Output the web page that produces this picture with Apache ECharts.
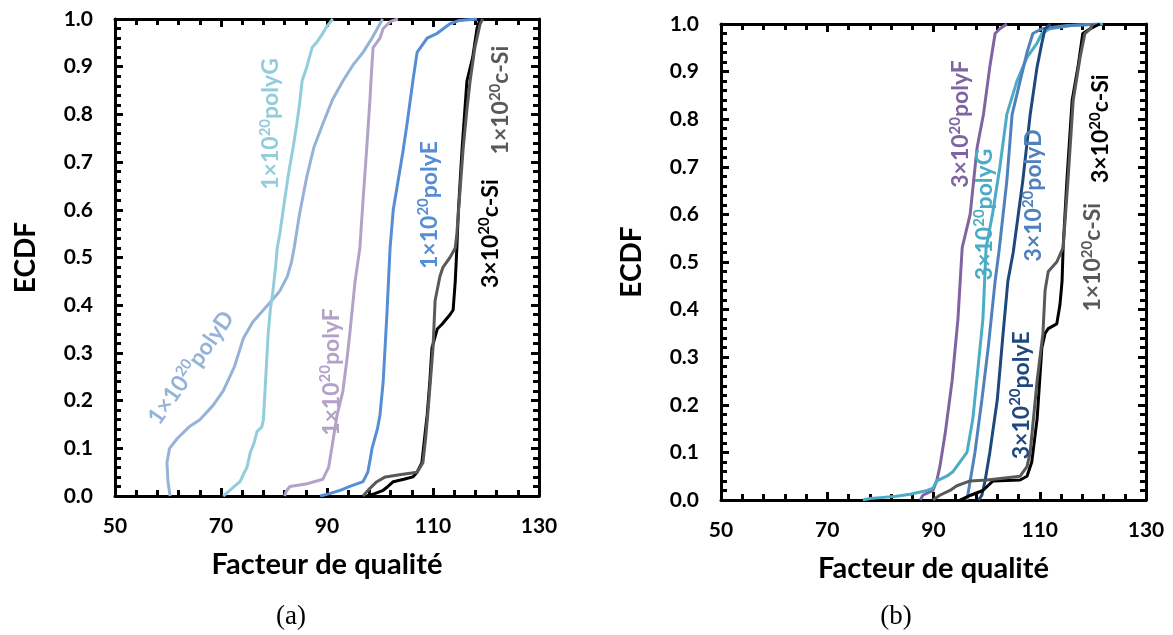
<!DOCTYPE html>
<html><head><meta charset="utf-8">
<script src="https://cdn.jsdelivr.net/npm/echarts@6/dist/echarts.min.js"></script>
<style>html,body{margin:0;padding:0;background:#fff}#c{width:1173px;height:635px}</style>
</head><body><div id="c"></div>
<script>
// ---------- data (x = Facteur de qualité, y = ECDF) ----------
const xMin = 50, xMax = 130, xStep = 20;
const yMin = 0, yMax = 1, yStep = 0.1;

// panel (a)
const a_polyD = [[60.4,0],[60.0,0.03],[59.8,0.07],[60.3,0.10],[61.7,0.12],[64,0.145],[66,0.16],[68.5,0.19],[70.4,0.22],[72.5,0.27],[74.2,0.33],[76,0.365],[78,0.39],[80,0.415],[81.1,0.43],[82.5,0.46],[83.3,0.49],[83.8,0.52],[84.8,0.59],[86.2,0.67],[87.5,0.73],[89.2,0.78],[91,0.83],[93,0.87],[95,0.905],[96.8,0.93],[98.5,0.96],[100,0.99],[100.5,1.0]];
const a_polyG = [[70.4,0],[71.5,0.01],[72.5,0.02],[73.6,0.03],[74.2,0.045],[74.9,0.06],[75.2,0.075],[75.5,0.09],[76.2,0.11],[76.8,0.135],[77.7,0.145],[78,0.16],[78.3,0.22],[78.6,0.28],[78.9,0.34],[79.3,0.39],[79.8,0.43],[80.3,0.48],[80.6,0.52],[81.1,0.55],[82,0.62],[82.8,0.68],[83.6,0.73],[84.3,0.78],[84.8,0.82],[85.3,0.87],[86.2,0.90],[87.2,0.94],[88,0.95],[89.2,0.97],[90,0.985],[91.1,1.0]];
const a_polyF = [[82,0],[82.3,0.01],[83,0.02],[86,0.025],[89.2,0.035],[90.3,0.06],[90.9,0.10],[91.9,0.17],[93,0.22],[93.8,0.29],[94.3,0.34],[95.3,0.45],[96.2,0.52],[96.8,0.62],[97.5,0.73],[98.1,0.83],[98.4,0.89],[98.7,0.94],[100,0.96],[100.6,0.98],[102,0.995],[103.4,1.0]];
const a_polyE = [[88.7,0],[90.5,0.005],[92.5,0.012],[94.3,0.02],[96.8,0.03],[97.7,0.05],[98.2,0.08],[98.5,0.10],[99.5,0.14],[100,0.17],[100.6,0.24],[101,0.32],[101.3,0.38],[101.9,0.52],[102.5,0.6],[103.4,0.66],[104.3,0.72],[105.1,0.78],[106.2,0.87],[107,0.93],[108.9,0.96],[110.8,0.97],[113.2,0.99],[115,0.997],[118.3,1.0]];
const a_cSi1 = [[96.8,0],[98,0.015],[99.4,0.03],[101,0.04],[104,0.045],[107,0.05],[108.1,0.07],[108.6,0.12],[109,0.17],[109.5,0.24],[110,0.31],[110.4,0.41],[111.3,0.46],[111.9,0.48],[113.2,0.50],[114.2,0.52],[114.5,0.55],[115.1,0.64],[115.7,0.73],[116.4,0.81],[117,0.87],[117.9,0.94],[118.9,0.99],[119.4,1.0]];
const a_cSi3 = [[97.5,0],[99,0.005],[100.6,0.012],[101.5,0.02],[102.5,0.03],[104.5,0.035],[106.2,0.04],[107,0.05],[107.9,0.07],[108.4,0.12],[108.9,0.17],[109.4,0.24],[109.8,0.31],[110.8,0.35],[111.7,0.36],[113.2,0.38],[113.8,0.39],[114.2,0.45],[114.5,0.52],[114.8,0.6],[115.5,0.73],[116.4,0.87],[117.5,0.92],[118.3,0.98],[118.9,1.0]];

// panel (b)
const b_polyF = [[87.5,0],[88,0.01],[89.9,0.02],[90.6,0.04],[91.2,0.07],[92.2,0.14],[93.5,0.25],[94.6,0.38],[95.4,0.53],[96.9,0.60],[98.2,0.74],[99.4,0.81],[100,0.86],[100.6,0.91],[101.6,0.98],[102.5,0.99],[103.8,1.0]];
const b_polyG = [[76.7,0],[78,0.003],[80,0.005],[83,0.008],[85.6,0.012],[88.8,0.02],[89.9,0.025],[90.6,0.04],[92.5,0.05],[93.7,0.06],[95,0.08],[96.3,0.10],[97.4,0.17],[98.4,0.28],[99.3,0.38],[99.9,0.53],[101.1,0.60],[102.5,0.70],[103.8,0.81],[105.7,0.88],[107.6,0.93],[109.5,0.96],[110.4,0.98],[111.9,0.99],[116,0.997],[121.9,1.0]];
const b_polyD = [[96.3,0],[96.9,0.04],[97.8,0.10],[99.1,0.21],[100.3,0.32],[101.6,0.46],[102.3,0.52],[103.8,0.67],[104.8,0.81],[106.3,0.88],[107.6,0.94],[108.7,0.98],[110.4,0.99],[115.1,0.997],[121.3,1.0]];
const b_polyE = [[98.5,0],[99.1,0.01],[99.7,0.04],[100.6,0.10],[102,0.21],[103.1,0.35],[104,0.46],[105,0.52],[106.8,0.67],[108.2,0.81],[109.5,0.91],[110.4,0.96],[111,0.99],[112,1.0]];
const b_cSi1 = [[89.9,0],[91.2,0.01],[93.1,0.02],[94.4,0.03],[96.9,0.04],[100.1,0.042],[106.3,0.05],[107.6,0.07],[108.2,0.10],[109.5,0.25],[110.6,0.35],[111,0.44],[111.6,0.48],[113.2,0.50],[114.4,0.53],[115.3,0.67],[116.3,0.84],[117.6,0.93],[118.5,0.98],[119.5,0.99],[120,1.0]];
const b_cSi3 = [[95,0],[97,0.01],[99.3,0.02],[101.2,0.04],[106.3,0.042],[107.6,0.05],[108.5,0.08],[109.5,0.17],[110.4,0.32],[111,0.35],[111.6,0.36],[113.2,0.37],[113.8,0.41],[114.2,0.46],[114.4,0.53],[115.1,0.67],[116.1,0.84],[117.2,0.91],[118.1,0.98],[119.5,0.99],[121.3,1.0]];

const xTitle = 'Facteur de qualité';
const yTitle = 'ECDF';
const captions = ['(a)', '(b)'];

// series: name prefix, superscript, suffix, data, color, panel
const seriesDefs = [
  {pre:'1×10', sup:'20', suf:'polyD', data:a_polyD, color:'#95B3D7', p:0},
  {pre:'1×10', sup:'20', suf:'polyG', data:a_polyG, color:'#92CDDC', p:0},
  {pre:'1×10', sup:'20', suf:'polyF', data:a_polyF, color:'#B3A2C7', p:0},
  {pre:'1×10', sup:'20', suf:'polyE', data:a_polyE, color:'#558ED5', p:0},
  {pre:'3×10', sup:'20', suf:'c-Si', data:a_cSi3, color:'#000000', p:0},
  {pre:'1×10', sup:'20', suf:'c-Si', data:a_cSi1, color:'#595959', p:0},
  {pre:'3×10', sup:'20', suf:'polyF', data:b_polyF, color:'#8064A2', p:1},
  {pre:'3×10', sup:'20', suf:'polyG', data:b_polyG, color:'#4BACC6', p:1},
  {pre:'3×10', sup:'20', suf:'polyD', data:b_polyD, color:'#4F81BD', p:1},
  {pre:'3×10', sup:'20', suf:'polyE', data:b_polyE, color:'#1F497D', p:1},
  {pre:'3×10', sup:'20', suf:'c-Si', data:b_cSi3, color:'#000000', p:1},
  {pre:'1×10', sup:'20', suf:'c-Si', data:b_cSi1, color:'#595959', p:1}
];
// label anchor (data coords) and rotation (deg) for each series, same order
const labelPos = [
  [64.2,0.27,55],[79.2,0.78,90],[90.6,0.26,90],[109.1,0.61,90],[120.6,0.55,90],[122.6,0.83,90],
  [95.0,0.79,90],[99.5,0.60,90],[108.7,0.64,90],[106.3,0.22,90],[121.3,0.78,90],[119.8,0.51,90]
];

// ---------- chart ----------
const FONT = 'Lato';
const grids = [
  {left:115, top:19, width:424, height:477},
  {left:721, top:24, width:425, height:476}
];
function xAx(gi, pos, showLabel){
  return {type:'value', gridIndex:gi, position:pos, min:xMin, max:xMax, interval:xStep,
    name: showLabel ? xTitle : '', nameLocation:'middle', nameGap:54,
    nameTextStyle:{fontFamily:FONT, fontWeight:'bold', fontSize:29, color:'#000'},
    axisLine:{show:true, onZero:false, lineStyle:{color:'#000', width:3}},
    axisTick:{show:true, inside:true, length:8, lineStyle:{color:'#000', width:3}},
    minorTick:{show:true, splitNumber:5, length:6, lineStyle:{color:'#000', width:3}},
    splitLine:{show:false}, minorSplitLine:{show:false},
    axisLabel:{show:showLabel, margin:20, fontFamily:FONT, fontWeight:'bold', fontSize:21, color:'#000'}};
}
function yAx(gi, pos, showLabel){
  return {type:'value', gridIndex:gi, position:pos, min:yMin, max:yMax, interval:yStep,
    name: showLabel ? yTitle : '', nameLocation:'middle', nameGap:75, nameRotate:90,
    nameTextStyle:{fontFamily:FONT, fontWeight:'bold', fontSize:28, color:'#000'},
    axisLine:{show:true, onZero:false, lineStyle:{color:'#000', width:3}},
    axisTick:{show:true, inside:true, length:8, lineStyle:{color:'#000', width:3}},
    minorTick:{show:true, splitNumber:5, length:6, lineStyle:{color:'#000', width:3}},
    splitLine:{show:false}, minorSplitLine:{show:false},
    axisLabel:{show:showLabel, margin:22, fontFamily:FONT, fontWeight:'bold', fontSize:21, color:'#000',
      formatter: v => v.toFixed(1)}};
}

const option = {
  animation:false,
  backgroundColor:'#fff',
  grid: grids,
  xAxis: [xAx(0,'bottom',true), xAx(0,'top',false), xAx(1,'bottom',true), xAx(1,'top',false)],
  yAxis: [yAx(0,'left',true), yAx(0,'right',false), yAx(1,'left',true), yAx(1,'right',false)],
  series: seriesDefs.map(s => ({
    type:'line', name:s.pre+s.sup+s.suf, xAxisIndex: s.p*2, yAxisIndex: s.p*2,
    data:s.data, showSymbol:false, symbol:'none', smooth:false,
    lineStyle:{color:s.color, width:3}, z:3
  }))
};

const chart = echarts.init(document.getElementById('c'));
chart.setOption(option);

const graphics = seriesDefs.map((s, i) => {
  const lp = labelPos[i];
  const pt = chart.convertToPixel({xAxisIndex: s.p*2, yAxisIndex: s.p*2}, [lp[0], lp[1]]);
  return {type:'text', x:pt[0], y:pt[1], rotation: lp[2]*Math.PI/180, z:10,
    style:{text:'{n|'+s.pre+'}{s|'+s.sup+'}{n|'+s.suf+'}', align:'center', verticalAlign:'middle',
      fill:s.color,
      rich:{
        n:{fontFamily:FONT, fontWeight:'bold', fontSize:23, lineHeight:25, fill:s.color, verticalAlign:'bottom'},
        s:{fontFamily:FONT, fontWeight:'bold', fontSize:15, lineHeight:25, fill:s.color, verticalAlign:'top'}
      }}};
});
captions.forEach((c, i) => {
  graphics.push({type:'text', x: i===0 ? 291 : 896, y:617,
    style:{text:c, align:'center', verticalAlign:'middle', fill:'#000',
      font:'27px "Liberation Serif", serif'}});
});
chart.setOption({graphic: graphics});
</script></body></html>
